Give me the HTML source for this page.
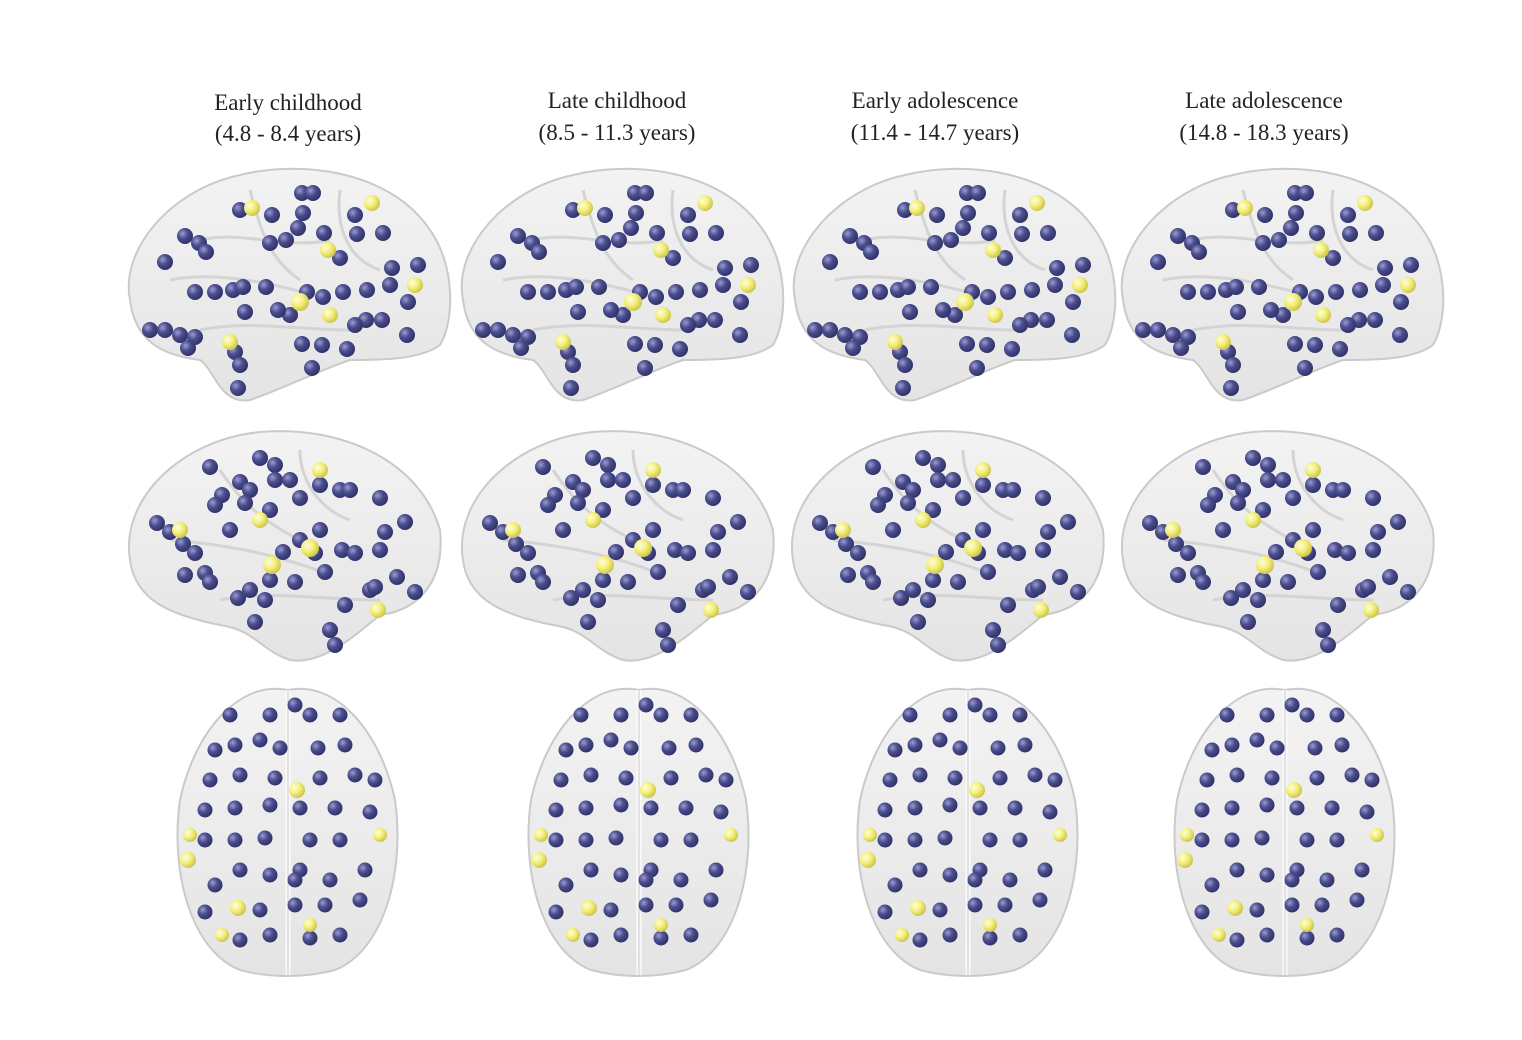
<!DOCTYPE html>
<html><head><meta charset="utf-8"><style>
html,body{margin:0;padding:0;background:#fff}
svg{display:block}
text{font-family:"Liberation Serif",serif;font-size:23px;fill:#222;text-anchor:middle}
</style></head><body>
<svg width="1522" height="1040" viewBox="0 0 1522 1040" xmlns="http://www.w3.org/2000/svg">
<defs>
<radialGradient id="b" cx="0.35" cy="0.35" r="0.7"><stop offset="0" stop-color="#9a9dd0"/><stop offset="0.45" stop-color="#4b4e8e"/><stop offset="1" stop-color="#2e2f66"/></radialGradient>
<radialGradient id="y" cx="0.35" cy="0.35" r="0.7"><stop offset="0" stop-color="#fffde0"/><stop offset="0.5" stop-color="#f3ef78"/><stop offset="1" stop-color="#c9c24a"/></radialGradient>
<linearGradient id="g" x1="0" y1="0" x2="0" y2="1"><stop offset="0" stop-color="#f3f3f3"/><stop offset="1" stop-color="#e4e4e4"/></linearGradient>

<g id="lat1">
<path d="M130,300 C120,250 170,190 240,175 C300,160 390,170 430,230 C455,265 455,320 440,345 C420,360 380,360 350,360 C320,370 280,390 250,400 C220,405 215,370 200,360 C160,355 135,340 130,300 Z" fill="url(#g)" stroke="#cacaca" stroke-width="2"/>
<path d="M170,280 C220,270 280,285 330,300 M200,240 C240,230 290,250 330,240 M250,190 C260,230 270,260 300,280 M340,190 C335,230 350,260 380,270 M200,330 C250,320 300,330 350,330" fill="none" stroke="#d4d4d4" stroke-width="3"/>
<g fill="url(#b)">
<circle cx="240" cy="210" r="8"/><circle cx="272" cy="215" r="8"/><circle cx="302" cy="193" r="8"/><circle cx="313" cy="193" r="8"/><circle cx="270" cy="243" r="8"/><circle cx="286" cy="240" r="8"/><circle cx="298" cy="228" r="8"/><circle cx="303" cy="213" r="8"/><circle cx="324" cy="233" r="8"/><circle cx="355" cy="215" r="8"/><circle cx="357" cy="234" r="8"/><circle cx="383" cy="233" r="8"/><circle cx="340" cy="258" r="8"/><circle cx="185" cy="236" r="8"/><circle cx="199" cy="243" r="8"/><circle cx="165" cy="262" r="8"/><circle cx="206" cy="252" r="8"/><circle cx="195" cy="292" r="8"/><circle cx="215" cy="292" r="8"/><circle cx="233" cy="290" r="8"/><circle cx="243" cy="287" r="8"/><circle cx="266" cy="287" r="8"/><circle cx="307" cy="292" r="8"/><circle cx="323" cy="297" r="8"/><circle cx="343" cy="292" r="8"/><circle cx="367" cy="290" r="8"/><circle cx="390" cy="285" r="8"/><circle cx="408" cy="302" r="8"/><circle cx="382" cy="320" r="8"/><circle cx="366" cy="320" r="8"/><circle cx="355" cy="325" r="8"/><circle cx="290" cy="315" r="8"/><circle cx="245" cy="312" r="8"/><circle cx="150" cy="330" r="8"/><circle cx="165" cy="330" r="8"/><circle cx="180" cy="335" r="8"/><circle cx="195" cy="337" r="8"/><circle cx="188" cy="348" r="8"/><circle cx="235" cy="352" r="8"/><circle cx="240" cy="365" r="8"/><circle cx="238" cy="388" r="8"/><circle cx="312" cy="368" r="8"/><circle cx="322" cy="345" r="8"/><circle cx="347" cy="349" r="8"/><circle cx="407" cy="335" r="8"/><circle cx="392" cy="268" r="8"/><circle cx="418" cy="265" r="8"/><circle cx="302" cy="344" r="8"/><circle cx="278" cy="310" r="8"/>
</g>
<g fill="url(#y)">
<circle cx="372" cy="203" r="8"/><circle cx="252" cy="208" r="8"/><circle cx="328" cy="250" r="8"/><circle cx="300" cy="302" r="9"/><circle cx="330" cy="315" r="8"/><circle cx="415" cy="285" r="8"/><circle cx="230" cy="342" r="8"/>
</g>
</g>

<g id="lat2">
<path d="M130,560 C120,500 180,440 260,432 C340,425 420,460 440,530 C445,580 420,610 380,615 C350,640 320,665 290,660 C260,650 255,630 220,625 C170,615 135,600 130,560 Z" fill="url(#g)" stroke="#cacaca" stroke-width="2"/>
<path d="M170,540 C230,545 280,555 330,575 M220,470 C240,500 260,520 300,540 M300,450 C300,480 320,510 350,520 M220,600 C270,590 320,600 380,600" fill="none" stroke="#d4d4d4" stroke-width="3"/>
<g fill="url(#b)">
<circle cx="210" cy="467" r="8"/><circle cx="260" cy="458" r="8"/><circle cx="275" cy="465" r="8"/><circle cx="240" cy="482" r="8"/><circle cx="222" cy="495" r="8"/><circle cx="250" cy="490" r="8"/><circle cx="275" cy="480" r="8"/><circle cx="290" cy="480" r="8"/><circle cx="300" cy="498" r="8"/><circle cx="320" cy="485" r="8"/><circle cx="340" cy="490" r="8"/><circle cx="270" cy="510" r="8"/><circle cx="245" cy="503" r="8"/><circle cx="215" cy="505" r="8"/><circle cx="157" cy="523" r="8"/><circle cx="170" cy="532" r="8"/><circle cx="183" cy="544" r="8"/><circle cx="195" cy="553" r="8"/><circle cx="185" cy="575" r="8"/><circle cx="205" cy="573" r="8"/><circle cx="210" cy="582" r="8"/><circle cx="238" cy="598" r="8"/><circle cx="250" cy="590" r="8"/><circle cx="265" cy="600" r="8"/><circle cx="270" cy="580" r="8"/><circle cx="283" cy="552" r="8"/><circle cx="300" cy="540" r="8"/><circle cx="315" cy="553" r="8"/><circle cx="325" cy="572" r="8"/><circle cx="342" cy="550" r="8"/><circle cx="355" cy="553" r="8"/><circle cx="380" cy="550" r="8"/><circle cx="385" cy="532" r="8"/><circle cx="405" cy="522" r="8"/><circle cx="397" cy="577" r="8"/><circle cx="415" cy="592" r="8"/><circle cx="370" cy="590" r="8"/><circle cx="345" cy="605" r="8"/><circle cx="330" cy="630" r="8"/><circle cx="335" cy="645" r="8"/><circle cx="255" cy="622" r="8"/><circle cx="295" cy="582" r="8"/><circle cx="380" cy="498" r="8"/><circle cx="320" cy="530" r="8"/><circle cx="230" cy="530" r="8"/><circle cx="350" cy="490" r="8"/><circle cx="375" cy="587" r="8"/>
</g>
<g fill="url(#y)">
<circle cx="320" cy="470" r="8"/><circle cx="310" cy="548" r="9"/><circle cx="272" cy="565" r="9"/><circle cx="180" cy="530" r="8"/><circle cx="378" cy="610" r="8"/><circle cx="260" cy="520" r="8"/>
</g>
</g>

<g id="top">
<path d="M288,690 C240,680 195,730 180,800 C170,870 190,950 240,970 C270,978 305,978 335,970 C385,950 405,870 395,800 C380,730 335,680 288,690 Z" fill="url(#g)" stroke="#cacaca" stroke-width="2"/>
<path d="M288,690 L288,975" stroke="#fafafa" stroke-width="5"/>
<path d="M288,690 L288,975" stroke="#c8c8c8" stroke-width="1"/>
<g fill="url(#b)">
<circle cx="230" cy="715" r="7.5"/><circle cx="270" cy="715" r="7.5"/><circle cx="295" cy="705" r="7.5"/><circle cx="310" cy="715" r="7.5"/><circle cx="340" cy="715" r="7.5"/><circle cx="215" cy="750" r="7.5"/><circle cx="235" cy="745" r="7.5"/><circle cx="260" cy="740" r="7.5"/><circle cx="280" cy="748" r="7.5"/><circle cx="318" cy="748" r="7.5"/><circle cx="345" cy="745" r="7.5"/><circle cx="210" cy="780" r="7.5"/><circle cx="240" cy="775" r="7.5"/><circle cx="275" cy="778" r="7.5"/><circle cx="320" cy="778" r="7.5"/><circle cx="355" cy="775" r="7.5"/><circle cx="375" cy="780" r="7.5"/><circle cx="205" cy="810" r="7.5"/><circle cx="235" cy="808" r="7.5"/><circle cx="270" cy="805" r="7.5"/><circle cx="300" cy="808" r="7.5"/><circle cx="335" cy="808" r="7.5"/><circle cx="370" cy="812" r="7.5"/><circle cx="205" cy="840" r="7.5"/><circle cx="235" cy="840" r="7.5"/><circle cx="265" cy="838" r="7.5"/><circle cx="310" cy="840" r="7.5"/><circle cx="340" cy="840" r="7.5"/><circle cx="215" cy="885" r="7.5"/><circle cx="240" cy="870" r="7.5"/><circle cx="270" cy="875" r="7.5"/><circle cx="300" cy="870" r="7.5"/><circle cx="330" cy="880" r="7.5"/><circle cx="365" cy="870" r="7.5"/><circle cx="205" cy="912" r="7.5"/><circle cx="260" cy="910" r="7.5"/><circle cx="295" cy="905" r="7.5"/><circle cx="325" cy="905" r="7.5"/><circle cx="360" cy="900" r="7.5"/><circle cx="240" cy="940" r="7.5"/><circle cx="270" cy="935" r="7.5"/><circle cx="310" cy="938" r="7.5"/><circle cx="340" cy="935" r="7.5"/><circle cx="295" cy="880" r="7.5"/>
</g>
<g fill="url(#y)">
<circle cx="297" cy="790" r="8"/><circle cx="188" cy="860" r="8"/><circle cx="238" cy="908" r="8"/><circle cx="222" cy="935" r="7"/><circle cx="310" cy="925" r="7"/><circle cx="190" cy="835" r="7"/><circle cx="380" cy="835" r="7"/>
</g>
</g>
</defs>

<text x="288" y="110">Early childhood</text>
<text x="288" y="141">(4.8 - 8.4 years)</text>
<text x="617" y="108">Late childhood</text>
<text x="617" y="140">(8.5 - 11.3 years)</text>
<text x="935" y="108">Early adolescence</text>
<text x="935" y="140">(11.4 - 14.7 years)</text>
<text x="1264" y="108">Late adolescence</text>
<text x="1264" y="140">(14.8 - 18.3 years)</text>

<use href="#lat1"/>
<use href="#lat1" transform="translate(333,0)"/>
<use href="#lat1" transform="translate(665,0)"/>
<use href="#lat1" transform="translate(993,0)"/>
<use href="#lat2"/>
<use href="#lat2" transform="translate(333,0)"/>
<use href="#lat2" transform="translate(663,0)"/>
<use href="#lat2" transform="translate(993,0)"/>
<use href="#top"/>
<use href="#top" transform="translate(351,0)"/>
<use href="#top" transform="translate(680,0)"/>
<use href="#top" transform="translate(997,0)"/>
</svg>
</body></html>
